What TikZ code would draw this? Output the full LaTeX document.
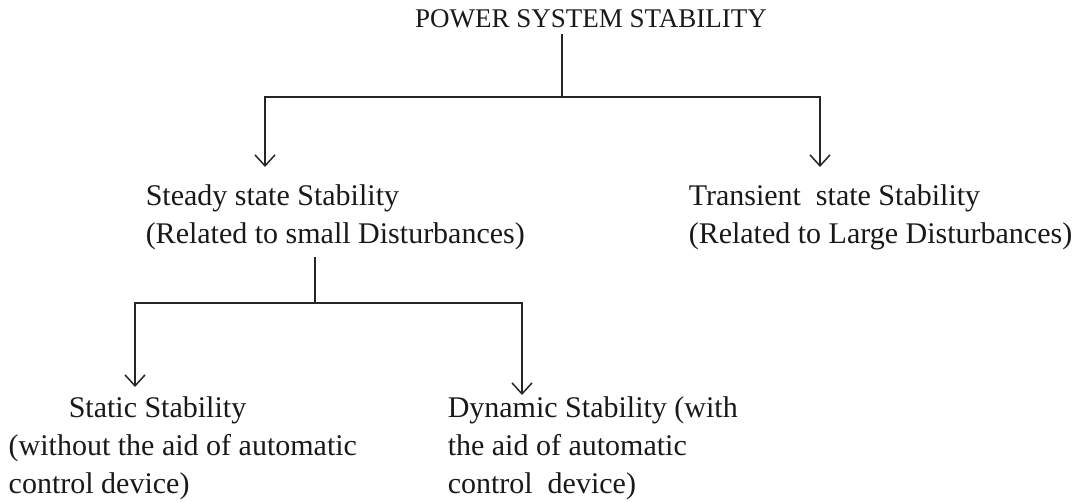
\documentclass[tikz,border=0pt]{standalone}
\usepackage{fontspec}
\setmainfont{Liberation Serif}
\usetikzlibrary{arrows.meta}

\begin{document}
\begin{tikzpicture}[x=1pt, y=-1pt, line width=1.5pt, draw=black!85, text=black!90]
    \tikzstyle{every node}=[inner sep=0pt, align=left, font=\fontsize{30}{38}\selectfont];
    \tikzstyle{branch}=[-{Straight Barb[length=11pt, width=20pt, line width=1.5pt]}];
    \useasboundingbox (0,0) rectangle (1083,502);

    \node (title) [anchor=base, font=\fontsize{27}{30}\selectfont] at (591,28) {POWER SYSTEM STABILITY};
    \node (steady) [anchor=north west] at (145,184) {Steady state Stability\\(Related to small Disturbances)};
    \node (transient) [anchor=north west] at (688,184) {Transient\ \ state Stability\\(Related to Large Disturbances)};
    \node (static) [anchor=north west] at (8,396) {\hspace*{60pt}Static Stability\\(without the aid of automatic\\control device)};
    \node (dynamic) [anchor=north west] at (447,396) {Dynamic Stability (with\\the aid of automatic\\control\ \ device)};

    % junctions and arrow ends
    \coordinate (top) at (562,97);
    \coordinate (left) at (265,167);
    \coordinate (right) at (820,167);
    \coordinate (mid) at (315,303);
    \coordinate (lowleft) at (135,387);
    \coordinate (lowright) at (522,395);

    \draw (title.south -| top) ++(0,5) -- (top);
    \draw[branch] (top) -| (left);
    \draw[branch] (top) -| (right);
    \draw (steady.south -| mid) ++(0,6) -- (mid);
    \draw[branch] (mid) -| (lowleft);
    \draw[branch] (mid) -| (lowright);
\end{tikzpicture}
\end{document}
